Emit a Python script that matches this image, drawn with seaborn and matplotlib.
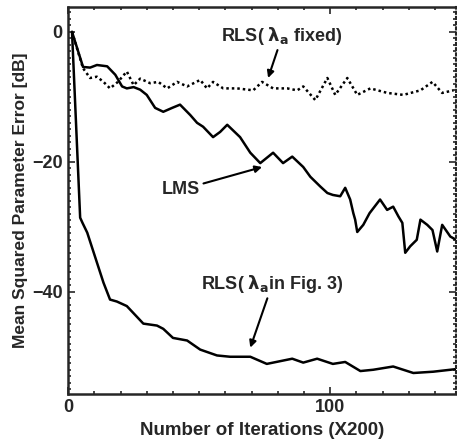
import numpy as np
import pandas as pd
import matplotlib
matplotlib.use("Agg")
import matplotlib.pyplot as plt
import seaborn as sns
from matplotlib.ticker import MultipleLocator

# ---- data ----
rls3_x = [1.5, 4.6, 5.5, 7.3, 11, 13.5, 16, 18.6, 22.4, 28.7, 33.9, 36.3, 40, 45.4, 50.4,
          56.8, 61.8, 69.5, 75.8, 85.5, 89.7, 95, 101, 105.7, 111.5, 116.4, 124, 131.7,
          139.3, 148]
rls3_y = [0, -28.6, -29.4, -30.9, -35.5, -38.6, -41.2, -41.5, -42.2, -44.9, -45.2, -45.7,
          -47.1, -47.5, -48.9, -49.8, -50.0, -50.0, -51.1, -50.3, -50.9, -50.3, -51.1,
          -50.8, -52.2, -52.0, -51.5, -52.5, -52.3, -51.9]

lms_x = [1.5, 5.7, 8.4, 11, 14.9, 18, 20.6, 22.4, 25, 27.5, 30, 33.2, 36.3, 39.7, 42.7,
         46.6, 49.2, 51.5, 55.3, 58, 60.7, 65.6, 69.5, 73.3, 78.2, 82, 85.5, 89.7, 92.4,
         96.2, 98.9, 101, 103.8, 105.7, 107.6, 108.8, 109.5, 110.3, 112.6, 115, 119,
         121.7, 124, 126, 127.5, 128.6, 130.5, 133, 134.4, 137, 139, 140.8, 142.7,
         145.8, 148]
lms_y = [0, -5.4, -5.5, -5.1, -5.3, -6.6, -8.4, -8.7, -8.5, -8.9, -9.7, -11.7, -12.3,
         -11.7, -11.2, -12.8, -14.0, -14.6, -16.2, -15.4, -14.3, -16.2, -18.6, -20.2,
         -18.6, -20.2, -19.2, -20.8, -22.3, -23.8, -24.8, -25.1, -25.3, -24.0, -25.8,
         -27.9, -28.9, -30.8, -29.7, -27.9, -25.8, -27.4, -26.9, -28.4, -29.4, -34.0,
         -33.0, -32.0, -28.9, -29.7, -30.5, -33.8, -29.7, -31.5, -32.0]

rlsf_x = [1.5, 5.7, 8.4, 11, 13.5, 16, 19, 22.4, 25, 27.5, 31.3, 34.4, 37.8, 41.6, 45.4,
          50.4, 53, 55.3, 59.2, 64.5, 70.6, 74, 78.2, 83.6, 87.4, 89.7, 94.3, 98.9,
          101.9, 106.5, 110.3, 115.3, 121.8, 127.9, 134.4, 139, 142.7, 147]
rlsf_y = [0, -5.6, -7.1, -6.9, -7.7, -8.7, -7.7, -6.1, -8.2, -7.2, -7.9, -7.7, -8.7,
          -7.7, -8.4, -7.4, -8.7, -7.7, -8.7, -8.7, -9.0, -7.7, -8.7, -8.7, -9.0, -8.4,
          -10.5, -7.1, -9.7, -7.1, -9.7, -8.7, -9.4, -9.7, -9.0, -7.7, -9.4, -9.0]

x_ticks = [0, 100]
y_ticks = [0, -20, -40]
y_tick_labels = ["0", "\u221220", "\u221240"]

df = pd.concat([
    pd.DataFrame({"x": rls3_x, "y": rls3_y, "s": "RLS3"}),
    pd.DataFrame({"x": lms_x, "y": lms_y, "s": "LMS"}),
    pd.DataFrame({"x": rlsf_x, "y": rlsf_y, "s": "RLSF"}),
], ignore_index=True)

sns.set_style("ticks")
plt.rcParams["font.family"] = ["Liberation Sans", "DejaVu Sans"]
plt.rcParams["font.weight"] = "bold"
plt.rcParams["mathtext.fontset"] = "custom"
plt.rcParams["mathtext.bf"] = "DejaVu Sans:bold"
plt.rcParams["mathtext.rm"] = "Liberation Sans:bold"
plt.rcParams["mathtext.it"] = "DejaVu Sans:bold:italic"

fig = plt.figure(figsize=(4.57, 4.48), dpi=100)
ax = fig.add_axes([0.149, 0.121, 0.849, 0.863])

sns.lineplot(data=df, x="x", y="y", hue="s", style="s",
             palette={"RLS3": "black", "LMS": "black", "RLSF": "black"},
             dashes={"RLS3": "", "LMS": "", "RLSF": (1, 1.2)},
             sort=False, estimator=None, legend=False, linewidth=1.8, ax=ax)

ax.set_xlim(0, 148)
ax.set_ylim(-55.7, 3.8)
ax.set_xticks(x_ticks)
ax.set_yticks(y_ticks)
ax.set_yticklabels(y_tick_labels)
ax.xaxis.set_minor_locator(MultipleLocator(10))
ax.yaxis.set_minor_locator(MultipleLocator(1))
ax.tick_params(which="both", direction="in", top=True, right=True, width=1.2,
               labelsize=13, pad=4)
ax.tick_params(which="major", length=5)
ax.tick_params(which="minor", length=2.5)
for lbl in ax.get_xticklabels() + ax.get_yticklabels():
    lbl.set_fontweight("bold")
for side in ["left", "bottom", "top"]:
    ax.spines[side].set_linewidth(1.8)
ax.spines["right"].set_linewidth(1.5)
ax.spines["right"].set_linestyle((0, (1, 1.5)))

ax.set_xlabel("Number of Iterations (X200)", fontsize=13.5, fontweight="bold", labelpad=4)
ax.set_ylabel("Mean Squared Parameter Error [dB]", fontsize=12.5, fontweight="bold", labelpad=3)

arrow = dict(arrowstyle="-|>", color="black", lw=1.5, mutation_scale=10, shrinkA=0, shrinkB=0)
ax.annotate(r"RLS( $\boldsymbol{\lambda}_{\mathbf{a}}$ fixed)", xy=(76.3, -7.1), xytext=(81.7, -2.3),
            ha="center", va="bottom", fontsize=13, fontweight="bold", arrowprops=arrow)
ax.annotate("LMS", xy=(74, -20.8), xytext=(50.4, -24.3), ha="right", va="center",
            fontsize=13, fontweight="bold", arrowprops=arrow)
ax.annotate(r"RLS( $\boldsymbol{\lambda}_{\mathbf{a}}$in Fig. 3)", xy=(69.5, -48.6), xytext=(77.9, -40.5),
            ha="center", va="bottom", fontsize=13, fontweight="bold", arrowprops=arrow)

fig.savefig("out.png", dpi=100)
